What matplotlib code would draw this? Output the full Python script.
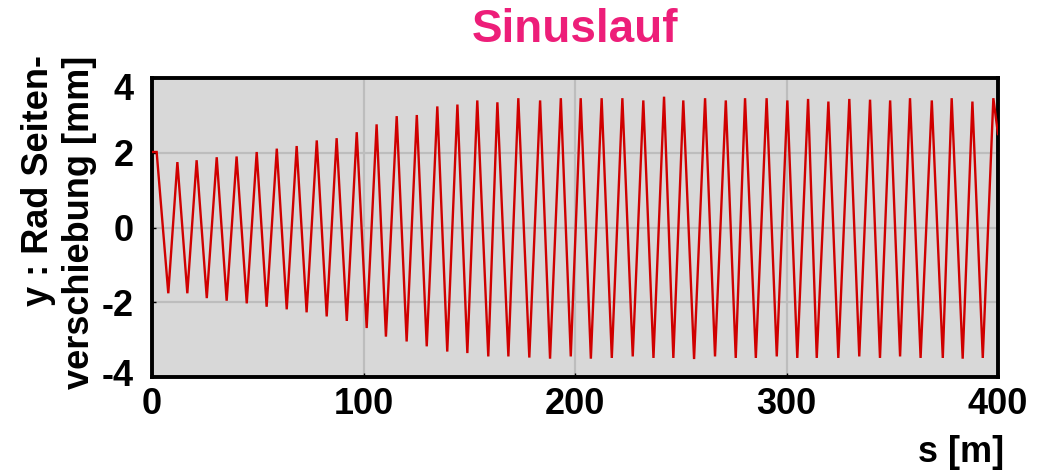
import matplotlib
matplotlib.use("Agg")
import matplotlib.pyplot as plt
import matplotlib.transforms as mtransforms

plt.rcParams['font.family'] = ['Liberation Sans', 'DejaVu Sans']

# ---- data: wave extrema (s in m, y in mm) ----
start_s = [0.0]
start_y = [2.02]
peak_s = [2.2, 12.0, 21.1, 30.6, 40.0, 49.5, 59.0, 68.4, 77.9, 87.3, 96.8,
          106.2, 115.7, 125.2, 134.9, 144.4, 153.8, 163.3, 173.2, 183.5, 193.3,
          202.7, 212.6, 222.4, 232.3, 242.1, 251.2, 261.5, 271.3, 280.4, 290.6,
          300.4, 310.2, 319.8, 329.7, 339.5, 349.0, 358.4, 368.7, 378.1, 387.9,
          397.8]
peak_y = [2.02, 1.75, 1.80, 1.88, 1.90, 2.02, 2.11, 2.18, 2.33, 2.39, 2.55,
          2.76, 2.98, 3.01, 3.24, 3.29, 3.40, 3.35, 3.46, 3.40, 3.46,
          3.46, 3.46, 3.46, 3.40, 3.50, 3.40, 3.46, 3.40, 3.46, 3.46,
          3.40, 3.44, 3.37, 3.44, 3.42, 3.40, 3.46, 3.40, 3.46, 3.37,
          3.46]
trough_s = [7.7, 16.7, 25.9, 35.3, 44.8, 54.2, 63.7, 73.1, 82.6, 92.1, 101.5,
            110.6, 120.4, 129.9, 139.6, 149.1, 159.0, 168.5, 178.4, 188.2, 198.0,
            207.5, 217.4, 227.3, 237.1, 246.5, 256.3, 266.2, 276.0, 285.5, 295.4,
            305.1, 314.3, 324.5, 334.4, 344.2, 353.7, 363.4, 373.9, 383.3, 392.8]
trough_y = [-1.76, -1.76, -1.89, -1.96, -2.03, -2.12, -2.19, -2.27, -2.38, -2.50, -2.69,
            -2.92, -3.05, -3.18, -3.32, -3.36, -3.45, -3.45, -3.48, -3.51, -3.45,
            -3.51, -3.49, -3.45, -3.49, -3.49, -3.52, -3.45, -3.49, -3.49, -3.45,
            -3.49, -3.49, -3.49, -3.45, -3.49, -3.45, -3.49, -3.49, -3.51, -3.49]
end_s = [400.0]
end_y = [2.5]

x_ticks = [0, 100, 200, 300, 400]
y_ticks = [-4, -2, 0, 2, 4]

title = "Sinuslauf"
y_label = "y : Rad Seiten-\nverschiebung [mm]"
x_label = "s [m]"

# merge extrema in path order
pts = sorted(list(zip(start_s, start_y)) + list(zip(peak_s, peak_y)) +
             list(zip(trough_s, trough_y)) + list(zip(end_s, end_y)))
s_vals = [p[0] for p in pts]
y_vals = [p[1] for p in pts]

W, H = 1043, 475
fig = plt.figure(figsize=(W / 100, H / 100), dpi=100)
ax = fig.add_axes([152 / W, 1 - 377 / H, (998 - 152) / W, (377 - 78) / H])
ax.set_facecolor('#D8D8D8')

ax.plot(s_vals, y_vals, color='#D00000', lw=1.7, zorder=3,
        solid_joinstyle='miter')

ax.set_xlim(0, 400)
ax.set_ylim(-4, 4)
ax.set_xticks(x_ticks)
ax.set_yticks(y_ticks)
ax.set_xticklabels([str(t) for t in x_ticks])
ax.set_yticklabels([str(t) for t in y_ticks])
ax.grid(True, color='#BDBDBD', lw=1.6, zorder=1)
ax.set_axisbelow(True)

for sp in ax.spines.values():
    sp.set_linewidth(2.8)
    sp.set_color('black')

ax.tick_params(axis='both', direction='in', length=3, width=1, labelsize=26)
ax.tick_params(axis='x', pad=7)
ax.tick_params(axis='y', pad=13)
for lab in ax.get_xticklabels() + ax.get_yticklabels():
    lab.set_fontweight('bold')

# end labels sit slightly inside the frame in the reference
ylabs = ax.get_yticklabels()
off_top = mtransforms.ScaledTranslation(0, -8 / 100, fig.dpi_scale_trans)
off_bot = mtransforms.ScaledTranslation(0, 4 / 100, fig.dpi_scale_trans)
ylabs[-1].set_transform(ylabs[-1].get_transform() + off_top)
ylabs[0].set_transform(ylabs[0].get_transform() + off_bot)

fig.text(575 / W, 1 - 30 / H, title, ha='center', va='center',
         fontsize=33, fontweight='bold', color='#ED1E79')
fig.text(59 / W, 1 - 222 / H, y_label, ha='center', va='center',
         rotation=90, fontsize=26, fontweight='bold', multialignment='right',
         linespacing=1.2)
fig.text(1004 / W, 1 - 452 / H, x_label, ha='right', va='center',
         fontsize=26, fontweight='bold')

fig.savefig('out.png', dpi=100)
